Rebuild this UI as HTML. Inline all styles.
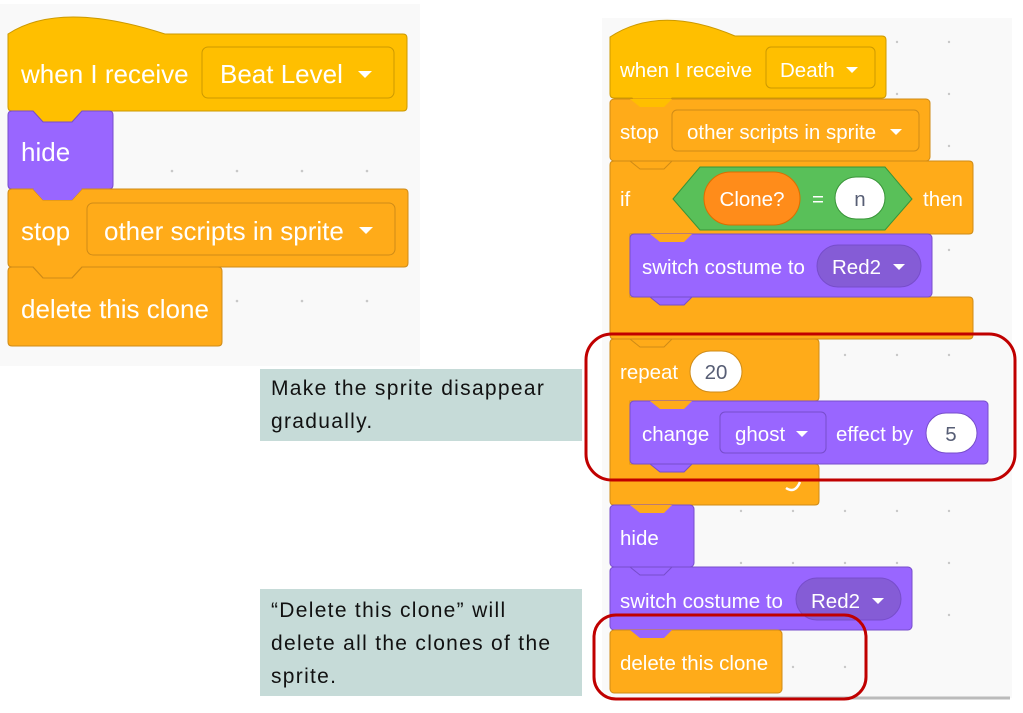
<!DOCTYPE html>
<html><head><style>
html,body{margin:0;padding:0;background:#fff;}
svg{display:block}
text{font-family:"Liberation Sans",Arial,sans-serif;}
.l{font-size:26px;fill:#fff}
.r{font-size:20.5px;fill:#fff}
.c{font-size:21px;fill:#111;letter-spacing:1.3px}
</style></head><body>
<svg width="1023" height="713" viewBox="0 0 1023 713" xmlns="http://www.w3.org/2000/svg">
<rect x="0" y="0" width="1023" height="713" fill="#fff"/>
<!-- LEFT PANEL -->
<rect x="0" y="4" width="420" height="362" fill="#f9f9f9"/>
<g fill="#c8c8c8">
<circle cx="172" cy="171" r="1.3"/><circle cx="237" cy="171" r="1.3"/><circle cx="302" cy="171" r="1.3"/><circle cx="367" cy="171" r="1.3"/>
<circle cx="237" cy="301" r="1.3"/><circle cx="302" cy="301" r="1.3"/><circle cx="367" cy="301" r="1.3"/>
</g>
<path d="M8,34 Q60,0 165,34 L403,34 Q407,34 407,38 L407,107 Q407,111 403,111 L82,111 L72,122 L43,122 L33,111 L12,111 Q8,111 8,107 Z" fill="#ffbf00" stroke="#cc9900" stroke-width="1"/>
<text x="21" y="83" class="l">when I receive</text>
<rect x="202" y="47" width="192" height="51" rx="6" fill="#ffbf00" stroke="#cc9900"/>
<text x="220" y="83" class="l">Beat Level</text>
<path d="M358,71 L372,71 L365,78 Z" fill="#fff"/>
<path d="M8,115 Q8,111 12,111 L33,111 L43,122 L72,122 L82,111 L109,111 Q113,111 113,115 L113,185 Q113,189 109,189 L82,189 L72,200 L43,200 L33,189 L12,189 Q8,189 8,185 Z" fill="#9966ff" stroke="#774dcb"/>
<text x="21" y="161" class="l">hide</text>
<path d="M8,193 Q8,189 12,189 L33,189 L43,200 L72,200 L82,189 L404,189 Q408,189 408,193 L408,263 Q408,267 404,267 L82,267 L72,278 L43,278 L33,267 L12,267 Q8,267 8,263 Z" fill="#ffab19" stroke="#cf8b17"/>
<path d="M33,189 L43,200 L72,200 L82,189 Z" fill="#9966ff"/>
<text x="21" y="240" class="l">stop</text>
<rect x="87" y="203" width="308" height="52" rx="6" fill="#ffab19" stroke="#cf8b17"/>
<text x="104" y="240" class="l">other scripts in sprite</text>
<path d="M359,227 L373,227 L366,234 Z" fill="#fff"/>
<path d="M8,271 Q8,267 12,267 L33,267 L43,278 L72,278 L82,267 L218,267 Q222,267 222,271 L222,342 Q222,346 218,346 L12,346 Q8,346 8,342 Z" fill="#ffab19" stroke="#cf8b17"/>
<path d="M33,267 L43,278 L72,278 L82,267" fill="none" stroke="#cf8b17"/>
<text x="21" y="318" class="l">delete this clone</text>

<!-- RIGHT PANEL -->
<rect x="602" y="18" width="410" height="680" fill="#f9f9f9"/>
<line x1="710" y1="698" x2="1010" y2="698" stroke="#bbb" stroke-width="3"/>
<g fill="#c8c8c8">
<circle cx="897" cy="42" r="1.2"/><circle cx="949" cy="42" r="1.2"/><circle cx="897" cy="94" r="1.2"/><circle cx="949" cy="94" r="1.2"/><circle cx="949" cy="146" r="1.2"/><circle cx="949" cy="250" r="1.2"/>
<circle cx="845" cy="355" r="1.2"/><circle cx="897" cy="355" r="1.2"/><circle cx="949" cy="355" r="1.2"/>
<circle cx="741" cy="511" r="1.2"/><circle cx="793" cy="511" r="1.2"/><circle cx="845" cy="511" r="1.2"/><circle cx="897" cy="511" r="1.2"/><circle cx="949" cy="511" r="1.2"/>
<circle cx="741" cy="563" r="1.2"/><circle cx="793" cy="563" r="1.2"/><circle cx="845" cy="563" r="1.2"/><circle cx="897" cy="563" r="1.2"/><circle cx="949" cy="563" r="1.2"/>
<circle cx="949" cy="615" r="1.2"/><circle cx="793" cy="667" r="1.2"/><circle cx="845" cy="667" r="1.2"/>
</g>
<path d="M610,37 Q660,4 735,36 L882,36 Q886,36 886,40 L886,94 Q886,98 882,98 L672,98 L664,106 L640,106 L632,98 L614,98 Q610,98 610,94 Z" fill="#ffbf00" stroke="#cc9900"/>
<text x="620" y="77" class="r">when I receive</text>
<rect x="766" y="47" width="109" height="41" rx="5" fill="#ffbf00" stroke="#cc9900"/>
<text x="780" y="77" class="r">Death</text>
<path d="M846,67 L858,67 L852,73 Z" fill="#fff"/>
<rect x="610" y="99" width="320" height="62" rx="4" fill="#ffab19" stroke="#cf8b17"/>
<path d="M630,99 L640,107 L664,107 L672,99 Z" fill="#ffbf00"/>
<text x="620" y="139" class="r">stop</text>
<rect x="672" y="110" width="247" height="41" rx="5" fill="#ffab19" stroke="#cf8b17"/>
<text x="687" y="139" class="r">other scripts in sprite</text>
<path d="M890,129 L902,129 L896,135 Z" fill="#fff"/>
<path d="M610,165 Q610,161 614,161 L969,161 Q973,161 973,165 L973,230 Q973,234 969,234 L630,234 L630,297 L969,297 Q973,297 973,301 L973,335 Q973,339 969,339 L614,339 Q610,339 610,335 Z" fill="#ffab19" stroke="#cf8b17"/>
<path d="M630,161 L640,169 L664,169 L672,161" fill="none" stroke="#cf8b17"/>
<text x="620" y="206" class="r">if</text>
<path d="M673,199 L700,167 L885,167 L912,199 L885,230 L700,230 Z" fill="#59c059" stroke="#389438"/>
<rect x="704" y="172" width="96" height="53" rx="26.5" fill="#ff8c1a" stroke="#db6e00"/>
<text x="752" y="206" class="r" text-anchor="middle">Clone?</text>
<text x="812" y="206" class="r">=</text>
<rect x="835" y="177" width="50" height="42" rx="21" fill="#fff" stroke="#389438"/>
<text x="860" y="206" font-size="20.5" fill="#575e75" text-anchor="middle">n</text>
<text x="923" y="206" class="r">then</text>
<rect x="630" y="234" width="302" height="63" rx="4" fill="#9966ff" stroke="#774dcb"/>
<path d="M650,234 L660,242 L684,242 L692,234 Z" fill="#ffab19"/>
<path d="M650,297 L660,305 L684,305 L692,297 Z" fill="#9966ff" stroke="#774dcb"/>
<text x="642" y="274" class="r">switch costume to</text>
<rect x="817" y="245" width="104" height="42" rx="21" fill="#855cd6" stroke="#774dcb"/>
<text x="832" y="274" class="r">Red2</text>
<path d="M893,264 L905,264 L899,270 Z" fill="#fff"/>
<path d="M610,343 Q610,339 614,339 L815,339 Q819,339 819,343 L819,397 Q819,401 815,401 L630,401 L630,464 L815,464 Q819,464 819,468 L819,501 Q819,505 815,505 L614,505 Q610,505 610,501 Z" fill="#ffab19" stroke="#cf8b17"/>
<path d="M630,339 L640,347 L664,347 L672,339" fill="none" stroke="#cf8b17"/>
<text x="620" y="379" class="r">repeat</text>
<rect x="690" y="351" width="52" height="41" rx="20.5" fill="#fff" stroke="#cf8b17"/>
<text x="716" y="379" font-size="20.5" fill="#575e75" text-anchor="middle">20</text>
<path d="M786,488 Q795,494 800,482" fill="none" stroke="#fff" stroke-width="2.5"/>
<rect x="630" y="401" width="358" height="63" rx="4" fill="#9966ff" stroke="#774dcb"/>
<path d="M650,401 L660,409 L684,409 L692,401 Z" fill="#ffab19"/>
<path d="M650,464 L660,472 L684,472 L692,464 Z" fill="#9966ff" stroke="#774dcb"/>
<text x="642" y="441" class="r">change</text>
<rect x="720" y="412" width="106" height="41" rx="5" fill="#9966ff" stroke="#774dcb"/>
<text x="735" y="441" class="r">ghost</text>
<path d="M796,431 L808,431 L802,437 Z" fill="#fff"/>
<text x="836" y="441" class="r">effect by</text>
<rect x="926" y="413" width="51" height="40" rx="20" fill="#fff" stroke="#774dcb"/>
<text x="951" y="441" font-size="20.5" fill="#575e75" text-anchor="middle">5</text>
<rect x="610" y="505" width="84" height="62" rx="4" fill="#9966ff" stroke="#774dcb"/>
<path d="M630,505 L640,513 L664,513 L672,505 Z" fill="#ffab19"/>
<text x="620" y="545" class="r">hide</text>
<rect x="610" y="567" width="302" height="63" rx="4" fill="#9966ff" stroke="#774dcb"/>
<path d="M630,567 L640,575 L664,575 L672,567" fill="none" stroke="#774dcb"/>
<text x="620" y="608" class="r">switch costume to</text>
<rect x="796" y="578" width="105" height="42" rx="21" fill="#855cd6" stroke="#774dcb"/>
<text x="811" y="608" class="r">Red2</text>
<path d="M872,598 L884,598 L878,604 Z" fill="#fff"/>
<rect x="610" y="630" width="172" height="63" rx="4" fill="#ffab19" stroke="#cf8b17"/>
<path d="M630,630 L640,638 L664,638 L672,630 Z" fill="#9966ff"/>
<text x="620" y="670" class="r">delete this clone</text>

<rect x="586" y="334" width="429" height="146" rx="26" fill="none" stroke="#c00000" stroke-width="3"/>
<rect x="594" y="615" width="272" height="84" rx="22" fill="none" stroke="#c00000" stroke-width="3"/>

<rect x="260" y="369" width="322" height="72" fill="#c6dbd8"/>
<text x="271" y="395" class="c">Make the sprite disappear</text>
<text x="271" y="428" class="c">gradually.</text>
<rect x="260" y="589" width="322" height="107" fill="#c6dbd8"/>
<text x="271" y="617" class="c">“Delete this clone” will</text>
<text x="271" y="650" class="c">delete all the clones of the</text>
<text x="271" y="683" class="c">sprite.</text>
</svg>
</body></html>
